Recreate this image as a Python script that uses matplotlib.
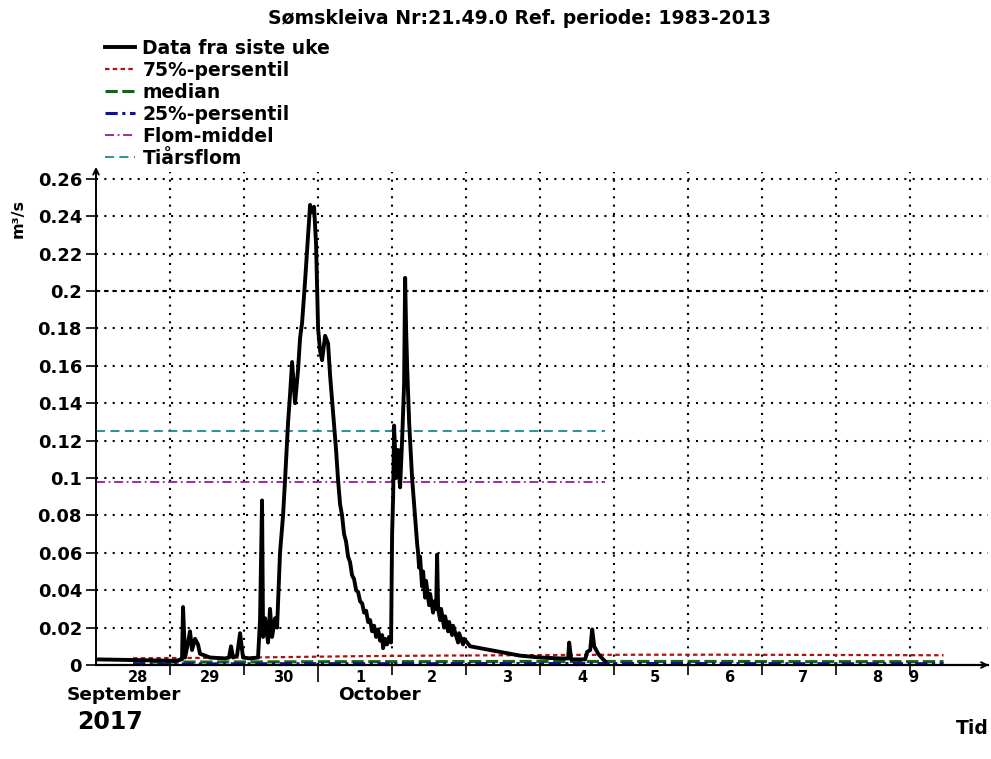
import matplotlib
matplotlib.use("Agg")
import matplotlib.pyplot as plt

plt.rcParams['font.family'] = ['DejaVu Sans']
plt.rcParams['font.weight'] = 'bold'

# tid i dager fra 28. september 2017 00:00
tid = [0.000, 0.324, 0.730, 1.068, 1.162, 1.176, 1.203, 1.243, 1.270, 1.297,
       1.338, 1.378, 1.405, 1.541, 1.743, 1.797, 1.824, 1.851, 1.905, 1.946,
       1.986, 2.081, 2.189, 2.216, 2.243, 2.257, 2.284, 2.324, 2.351, 2.378,
       2.419, 2.446, 2.486, 2.527, 2.554, 2.595, 2.622, 2.649, 2.689, 2.730,
       2.757, 2.784, 2.824, 2.865, 2.892, 2.919, 2.946, 2.973, 3.000, 3.027,
       3.054, 3.095, 3.135, 3.162, 3.203, 3.243, 3.270, 3.297, 3.324, 3.351,
       3.378, 3.405, 3.432, 3.459, 3.486, 3.514, 3.541, 3.568, 3.595, 3.622,
       3.649, 3.676, 3.703, 3.730, 3.757, 3.784, 3.811, 3.838, 3.865, 3.878,
       3.905, 3.932, 3.959, 3.986, 4.000, 4.014, 4.027, 4.054, 4.081, 4.108,
       4.135, 4.162, 4.176, 4.189, 4.203, 4.230, 4.270, 4.311, 4.338, 4.351,
       4.365, 4.378, 4.405, 4.419, 4.446, 4.459, 4.500, 4.514, 4.554, 4.568,
       4.595, 4.608, 4.622, 4.649, 4.662, 4.703, 4.716, 4.757, 4.770, 4.811,
       4.824, 4.892, 4.905, 4.959, 4.973, 5.054, 5.189, 5.324, 5.459, 5.595,
       5.730, 6.000, 6.270, 6.378, 6.392, 6.419, 6.608, 6.635, 6.676, 6.703,
       6.730, 6.784, 6.851, 6.878]
vannforing = [0.0030, 0.0028, 0.0025, 0.0022, 0.0030, 0.0310, 0.0040, 0.0120, 0.0180, 0.0080,
              0.0140, 0.0110, 0.0060, 0.0040, 0.0035, 0.0040, 0.0100, 0.0040, 0.0050, 0.0170,
              0.0040, 0.0035, 0.0040, 0.0240, 0.0880, 0.0150, 0.0250, 0.0120, 0.0300, 0.0150,
              0.0250, 0.0200, 0.0600, 0.0800, 0.0990, 0.1300, 0.1450, 0.1620, 0.1400, 0.1580,
              0.1750, 0.1830, 0.2050, 0.2300, 0.2460, 0.2420, 0.2450, 0.2250, 0.1800, 0.1680,
              0.1630, 0.1760, 0.1720, 0.1550, 0.1350, 0.1150, 0.0990, 0.0860, 0.0800, 0.0700,
              0.0660, 0.0580, 0.0550, 0.0480, 0.0460, 0.0400, 0.0390, 0.0340, 0.0330, 0.0280,
              0.0290, 0.0230, 0.0240, 0.0180, 0.0210, 0.0150, 0.0190, 0.0130, 0.0160, 0.0090,
              0.0140, 0.0110, 0.0150, 0.0120, 0.0700, 0.0900, 0.1280, 0.1000, 0.1150, 0.0950,
              0.1200, 0.1500, 0.2070, 0.1800, 0.1600, 0.1300, 0.1000, 0.0790, 0.0650, 0.0600,
              0.0520, 0.0580, 0.0420, 0.0500, 0.0360, 0.0450, 0.0320, 0.0380, 0.0280, 0.0340,
              0.0300, 0.0590, 0.0300, 0.0240, 0.0300, 0.0200, 0.0260, 0.0180, 0.0230, 0.0160,
              0.0210, 0.0120, 0.0170, 0.0110, 0.0140, 0.0100, 0.0090, 0.0080, 0.0070, 0.0060,
              0.0050, 0.0040, 0.0035, 0.0035, 0.0120, 0.0030, 0.0030, 0.0070, 0.0080, 0.0190,
              0.0100, 0.0060, 0.0030, 0.0020]

# persentiler, daglige verdier
tid_pers = [0.5, 1.5, 2.5, 3.5, 4.5, 5.5, 6.5, 7.5, 8.5, 9.5, 10.5, 11.45]
p75 = [0.0036, 0.0038, 0.0042, 0.0047, 0.0050, 0.0052, 0.0054, 0.0055, 0.0055, 0.0054, 0.0053, 0.0052]
median = [0.0016, 0.0016, 0.0017, 0.0018, 0.0018, 0.0019, 0.0019, 0.0019, 0.0019, 0.0018, 0.0018, 0.0018]
p25 = [0.0006, 0.0006, 0.0007, 0.0007, 0.0007, 0.0008, 0.0008, 0.0008, 0.0008, 0.0007, 0.0007, 0.0007]

tid_flom = [0.0, 6.88]
flom_middel = 0.098
tiarsflom = 0.125

y_ticks = [0, 0.02, 0.04, 0.06, 0.08, 0.1, 0.12, 0.14, 0.16, 0.18, 0.2, 0.22, 0.24, 0.26]
y_labels = ['0', '0.02', '0.04', '0.06', '0.08', '0.1', '0.12', '0.14', '0.16', '0.18',
            '0.2', '0.22', '0.24', '0.26']
dag_labels = ['28', '29', '30', '1', '2', '3', '4', '5', '6', '7', '8', '9']
dag_pos = [0.57, 1.54, 2.53, 3.57, 4.54, 5.55, 6.57, 7.55, 8.55, 9.55, 10.55, 11.04]

fig = plt.figure(figsize=(9.91, 7.59), dpi=100)
ax = fig.add_axes([96 / 991, 1 - 665 / 759, 892 / 991, 493 / 759])

ax.plot(tid, vannforing, color='black', lw=2.8, label='Data fra siste uke', zorder=5)
ax.plot(tid_pers, p75, color='#b01010', lw=1.6, ls=(0, (2, 1.5)), label='75%-persentil')
ax.plot(tid_pers, median, color='#0a6a0a', lw=2.2, ls=(0, (4, 1.5)), label='median')
ax.plot(tid_pers, p25, color='#1010a0', lw=2.2, ls=(0, (4, 1.5, 1, 1.5)), label='25%-persentil')
ax.plot(tid_flom, [flom_middel] * 2, color='#9a1a9a', lw=1.3, ls=(0, (5, 2, 1, 2)), label='Flom-middel')
ax.plot(tid_flom, [tiarsflom] * 2, color='#1a8a8a', lw=1.3, ls=(0, (5, 3)), label='Tiårsflom')

ax.set_xlim(0, 12.05)
ax.set_ylim(0, 0.2636)
ax.set_yticks(y_ticks)
ax.set_yticklabels(y_labels, fontsize=13, fontweight='bold')
ax.set_xticks(range(1, 12))
ax.set_xticklabels([])
ax.tick_params(axis='y', direction='out', length=7, width=1.2, pad=3)
ax.tick_params(axis='x', direction='out', length=7, width=1.2)
ax.xaxis.get_major_ticks()[2].tick1line.set_markersize(12)

ax.grid(True, color='black', ls=(0, (1, 3)), lw=1.5)
ax.axhline(0.2, color='black', ls=(0, (2, 2)), lw=1.5, zorder=1)
for s in ['top', 'right']:
    ax.spines[s].set_visible(False)
ax.spines['left'].set_linewidth(1.4)
ax.spines['bottom'].set_linewidth(1.6)
ax.annotate('', xy=(0, 1.016), xytext=(0, 0.99), xycoords='axes fraction',
            arrowprops=dict(arrowstyle='->', lw=1.4, color='black'))
ax.annotate('', xy=(1.004, 0), xytext=(0.99, 0), xycoords='axes fraction',
            arrowprops=dict(arrowstyle='->', lw=1.4, color='black'))

xtr = ax.get_xaxis_transform()
for lab, pos in zip(dag_labels, dag_pos):
    ax.text(pos, -0.026, lab, transform=xtr, ha='center', va='center', fontsize=10.5, fontweight='bold')
ax.text(0.38, -0.061, 'September', transform=xtr, ha='center', va='center', fontsize=13.3, fontweight='bold')
ax.text(3.83, -0.061, 'October', transform=xtr, ha='center', va='center', fontsize=13.3, fontweight='bold')
ax.text(0.19, -0.116, '2017', transform=xtr, ha='center', va='center', fontsize=17, fontweight='bold')

fig.text(972 / 991, 1 - 729 / 759, 'Tid', ha='center', va='center', fontsize=13.5, fontweight='bold')
fig.text(18 / 991, 1 - 219 / 759, 'm³/s', ha='center', va='center', rotation=90,
         fontsize=11.5, fontweight='bold')
fig.text(520 / 991, 1 - 18 / 759, 'Sømskleiva Nr:21.49.0 Ref. periode: 1983-2013',
         ha='center', va='center', fontsize=13.6, fontweight='bold')

fig.legend(loc='upper left', bbox_to_anchor=(105 / 991, 1 - 39 / 759), frameon=False,
           handlelength=1.6, handletextpad=0.4, labelspacing=0.16, borderpad=0,
           borderaxespad=0, prop={'size': 13.5, 'weight': 'bold'})

fig.savefig('out.png', dpi=100)
